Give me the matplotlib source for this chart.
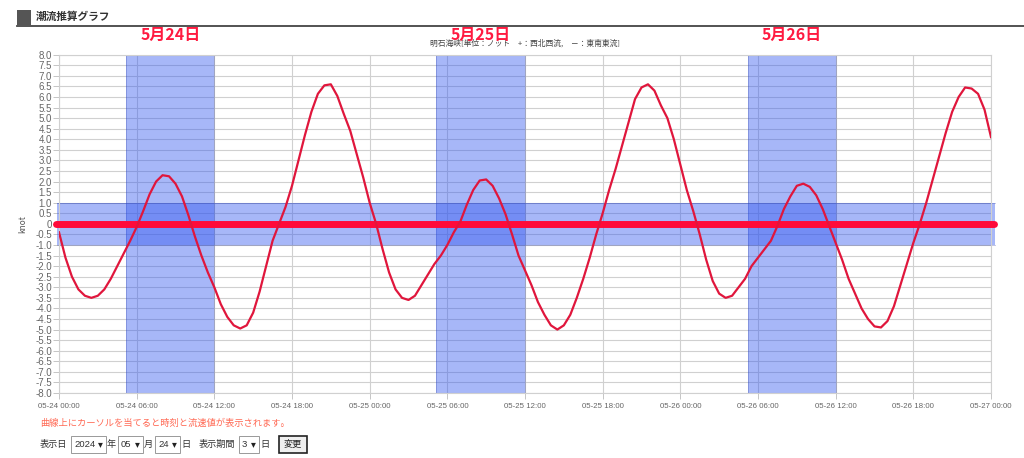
import matplotlib.pyplot as plt
from matplotlib.patches import Rectangle
from matplotlib.lines import Line2D

plt.rcParams['font.family'] = ['Noto Sans CJK JP', 'DejaVu Sans']

# 時刻 (05-24 00:00 からの経過時間) と流速 (knot)
hours = [0.0, 0.5, 1.0, 1.5, 2.0, 2.5, 3.0, 3.5, 4.0, 4.5, 5.0, 5.5,
         6.0, 6.5, 7.0, 7.5, 8.0, 8.5, 9.0, 9.5, 10.0, 10.5, 11.0, 11.5,
         12.0, 12.5, 13.0, 13.5, 14.0, 14.5, 15.0, 15.5, 16.0, 16.5, 17.0, 17.5,
         18.0, 18.5, 19.0, 19.5, 20.0, 20.5, 21.0, 21.5, 22.0, 22.5, 23.0, 23.5,
         24.0, 24.5, 25.0, 25.5, 26.0, 26.5, 27.0, 27.5, 28.0, 28.5, 29.0, 29.5,
         30.0, 30.5, 31.0, 31.5, 32.0, 32.5, 33.0, 33.5, 34.0, 34.5, 35.0, 35.5,
         36.0, 36.5, 37.0, 37.5, 38.0, 38.5, 39.0, 39.5, 40.0, 40.5, 41.0, 41.5,
         42.0, 42.5, 43.0, 43.5, 44.0, 44.5, 45.0, 45.5, 46.0, 46.5, 47.0, 47.5,
         48.0, 48.5, 49.0, 49.5, 50.0, 50.5, 51.0, 51.5, 52.0, 52.5, 53.0, 53.5,
         54.0, 54.5, 55.0, 55.5, 56.0, 56.5, 57.0, 57.5, 58.0, 58.5, 59.0, 59.5,
         60.0, 60.5, 61.0, 61.5, 62.0, 62.5, 63.0, 63.5, 64.0, 64.5, 65.0, 65.5,
         66.0, 66.5, 67.0, 67.5, 68.0, 68.5, 69.0, 69.5, 70.0, 70.5, 71.0, 71.5,
         72.0]
speed = [-0.4, -1.6, -2.5, -3.1, -3.4, -3.5, -3.4, -3.1, -2.6, -2.0, -1.4, -0.8,
         -0.15, 0.6, 1.4, 2.0, 2.3, 2.25, 1.9, 1.3, 0.4, -0.6, -1.5, -2.3,
         -3.0, -3.8, -4.4, -4.8, -4.95, -4.8, -4.2, -3.2, -2.0, -0.8, 0.0, 0.8,
         1.8, 3.0, 4.2, 5.3, 6.15, 6.55, 6.6, 6.05, 5.2, 4.4, 3.3, 2.2,
         1.0, 0.0, -1.2, -2.3, -3.1, -3.5, -3.6, -3.4, -2.9, -2.4, -1.9, -1.5,
         -1.0, -0.4, 0.1, 0.9, 1.6, 2.05, 2.1, 1.8, 1.2, 0.45, -0.5, -1.5,
         -2.2, -2.9, -3.7, -4.3, -4.8, -5.0, -4.8, -4.3, -3.5, -2.6, -1.6, -0.5,
         0.5, 1.6, 2.6, 3.7, 4.8, 5.9, 6.45, 6.6, 6.3, 5.6, 5.0, 4.0,
         2.8, 1.6, 0.6, -0.5, -1.7, -2.7, -3.3, -3.5, -3.4, -3.0, -2.6, -2.0,
         -1.6, -1.2, -0.8, -0.1, 0.7, 1.3, 1.8, 1.9, 1.75, 1.35, 0.7, -0.1,
         -0.9, -1.7, -2.6, -3.3, -4.0, -4.5, -4.85, -4.9, -4.6, -3.9, -2.9, -1.9,
         -0.9, 0.0, 1.0, 2.1, 3.2, 4.3, 5.3, 6.0, 6.45, 6.4, 6.15, 5.4,
         4.1]

xtick_hours = [0, 6, 12, 18, 24, 30, 36, 42, 48, 54, 60, 66, 72]
xtick_labels = ['05-24 00:00', '05-24 06:00', '05-24 12:00', '05-24 18:00',
                '05-25 00:00', '05-25 06:00', '05-25 12:00', '05-25 18:00',
                '05-26 00:00', '05-26 06:00', '05-26 12:00', '05-26 18:00',
                '05-27 00:00']
ytick_values = [v / 2 for v in range(16, -17, -1)]
ytick_labels = ['0' if v == 0 else f'{v:.1f}' for v in ytick_values]

# 強調する時間帯 (開始, 終了) と日付ラベル
day_bands = [(5.2, 12.0), (29.1, 36.0), (53.2, 60.0)]
day_labels = ['5月24日', '5月25日', '5月26日']
slack_band = (-1.0, 1.0)

W, H = 1024, 458
fig = plt.figure(figsize=(W / 100, H / 100), dpi=100)
ax = fig.add_axes([59 / W, 1 - 393 / H, (991 - 59) / W, (393 - 54.7) / H])

band_color = '#2f55f0'
for (s, e), lab in zip(day_bands, day_labels):
    ax.axvspan(s, e, color=band_color, alpha=0.42, lw=0, zorder=2)
    ax.axvline(s, color='#3040a0', lw=0.6, alpha=0.35, zorder=2)
    ax.axvline(e, color='#3040a0', lw=0.6, alpha=0.35, zorder=2)
    ax.text((s + e) / 2, 8.55, lab, ha='center', va='bottom', color='#ff1a40',
            fontsize=11.5, fontweight='bold', zorder=10, clip_on=False)

ax.add_patch(Rectangle((-0.15, slack_band[0]), 72.45, slack_band[1] - slack_band[0],
                       facecolor=band_color, alpha=0.42, lw=0, zorder=2, clip_on=False))
ax.add_line(Line2D([-0.15, 72.3], [slack_band[1]] * 2, color='#3040a0', lw=0.6,
                   alpha=0.35, zorder=2, clip_on=False))
ax.add_line(Line2D([-0.15, 72.3], [slack_band[0]] * 2, color='#3040a0', lw=0.6,
                   alpha=0.35, zorder=2, clip_on=False))

ax.plot(hours, speed, color='#e0163c', lw=1.6, zorder=4, solid_joinstyle='round')
ax.add_line(Line2D([-0.25, 72.25], [0, 0], color='#ff0a3a', lw=5,
                   solid_capstyle='round', zorder=3, clip_on=False))

ax.set_xlim(0, 72)
ax.set_ylim(-8, 8)
ax.set_xticks(xtick_hours)
ax.set_xticklabels(xtick_labels, fontsize=5.7, color='#666666',
                   family=['Liberation Sans', 'DejaVu Sans'])
ax.set_yticks(ytick_values)
ax.set_yticklabels(ytick_labels, fontsize=7, color='#666666',
                   family=['Liberation Sans', 'DejaVu Sans'])
ax.tick_params(axis='y', length=4, width=0.6, color='#bbbbbb', pad=1)
ax.tick_params(axis='x', length=4, width=0.6, color='#bbbbbb', pad=3)
ax.grid(True, color='#d0d0d0', lw=0.8, zorder=0)
ax.set_axisbelow(True)
for sp in ax.spines.values():
    sp.set_color('#d0d0d0')
    sp.set_linewidth(0.8)
ax.set_ylabel('knot', fontsize=6, color='#555555', labelpad=6)

ax.text(0.5, 1.02, '明石海峡[単位：ノット　+：西北西流,　－：東南東流]', transform=ax.transAxes,
        ha='center', va='bottom', fontsize=5.6, color='#444444', zorder=1)


def fx(px):
    return px / W


def fy(py):
    return 1 - py / H


# ヘッダー
fig.patches.append(Rectangle((fx(17), fy(25)), 14 / W, 15 / H, transform=fig.transFigure,
                             facecolor='#555555', lw=0))
fig.lines.append(Line2D([fx(17), 1], [fy(25.5), fy(25.5)], transform=fig.transFigure,
                        color='#444444', lw=1.3))
fig.text(fx(36), fy(17), '潮流推算グラフ', fontsize=7.7, fontweight='bold', color='#333333',
         va='center', ha='left')

# 下部の案内とフォーム
fig.text(fx(40), fy(423), '曲線上にカーソルを当てると時刻と流速値が表示されます。',
         fontsize=6.7, color='#ff6a55', va='center', ha='left')

row_y = fy(444.5)
for px, txt in [(40, '表示日'), (107, '年'), (144, '月'), (181, '日'), (199, '表示期間'), (260, '日')]:
    fig.text(fx(px), row_y, txt, fontsize=6.6, color='#333333', va='center', ha='left')

for x0, x1, txt in [(71, 106, '2024'), (118, 143, '05'), (155, 180, '24'), (239, 259, '3')]:
    fig.patches.append(Rectangle((fx(x0), fy(453)), (x1 - x0) / W, 17 / H,
                                 transform=fig.transFigure, facecolor='white',
                                 edgecolor='#999999', lw=0.7))
    fig.text(fx(x0 + 3), row_y, txt, fontsize=6.8, color='#333333', va='center', ha='left',
             family=['Liberation Sans', 'DejaVu Sans'])
    fig.text(fx(x1 - 3), row_y, '▾', fontsize=7, color='#222222', va='center', ha='right',
             family=['DejaVu Sans'])

fig.patches.append(Rectangle((fx(279), fy(453)), 28 / W, 17 / H, transform=fig.transFigure,
                             facecolor='#efefef', edgecolor='#222222', lw=1.2))
fig.text(fx(293), row_y, '変更', fontsize=6.6, color='#222222', va='center', ha='center')

fig.savefig('out.png', dpi=100, facecolor='white')
